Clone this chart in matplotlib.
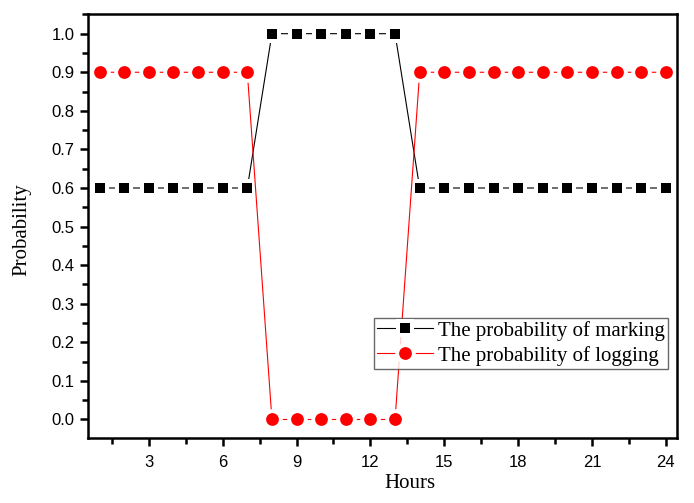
import matplotlib
matplotlib.use("Agg")
import matplotlib.pyplot as plt
from matplotlib.ticker import MultipleLocator
from matplotlib.legend_handler import HandlerTuple

hours = list(range(1, 25))
marking = [0.6]*7 + [1.0]*6 + [0.6]*11
logging_p = [0.9]*7 + [0.0]*6 + [0.9]*11
xticks = [3, 6, 9, 12, 15, 18, 21, 24]
yticks = [i/10 for i in range(11)]

fig = plt.figure(figsize=(6.94, 5.03), dpi=100)
ax = fig.add_axes([88/694, 1-438/503, (677-88)/694, (438-14)/503])

def series(x, y, color, marker, ms, halo, z):
    ln, = ax.plot(x, y, color=color, lw=0.8, zorder=z)
    wh, = ax.plot(x, y, ls='none', marker=marker, markersize=halo,
                  markerfacecolor='white', markeredgewidth=0, zorder=z + 0.05)
    mk, = ax.plot(x, y, ls='none', marker=marker, markersize=ms,
                  markerfacecolor=color, markeredgewidth=0, zorder=z + 0.1)
    return (ln, wh, mk)

h1 = series(hours, marking, 'black', 's', 7.4, 13.2, 2.0)
h2 = series(hours, logging_p, 'red', 'o', 9.2, 14.8, 2.2)

ax.set_xlim(0.53, 24.45)
ax.set_ylim(-0.048, 1.051)
ax.set_xticks(xticks)
ax.xaxis.set_minor_locator(MultipleLocator(1.5))
ax.yaxis.set_minor_locator(MultipleLocator(0.05))
ax.set_yticks(yticks)
ax.set_yticklabels([f"{v:.1f}" for v in yticks])

for s in ax.spines.values():
    s.set_linewidth(1.8)
    s.set_zorder(5)
ax.tick_params(which='major', direction='out', length=6, width=1.8,
               labelsize=12, top=False, right=False)
ax.tick_params(axis='x', which='major', pad=6)
ax.tick_params(which='minor', direction='out', length=4, width=1.8,
               top=False, right=False)
for lab in ax.get_xticklabels() + ax.get_yticklabels():
    lab.set_fontfamily('Liberation Sans')

ax.set_xlabel('Hours', fontfamily='Liberation Serif', fontsize=15)
ax.xaxis.set_label_coords((410-88)/589, -0.085)
ax.set_ylabel('Probability', fontfamily='Liberation Serif', fontsize=15)
ax.yaxis.set_label_coords((31-88)/589, (438-230)/424)

leg = ax.legend([h1, h2], ['The probability of marking', 'The probability of logging'],
                handler_map={tuple: HandlerTuple(ndivide=1, pad=0)},
                loc='upper right', bbox_to_anchor=(0.985, 0.284),
                prop={'family': 'Liberation Serif', 'size': 15},
                frameon=True, fancybox=False, edgecolor='#444444',
                borderpad=0.15, handlelength=2.7, handletextpad=0.25,
                labelspacing=0.25, borderaxespad=0)
leg.get_frame().set_linewidth(1.0)

fig.savefig('out.png', dpi=100)
